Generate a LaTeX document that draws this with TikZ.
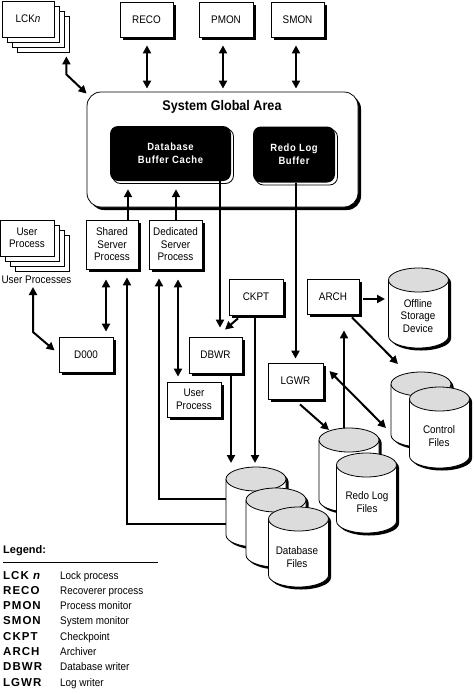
\documentclass[tikz,border=0pt]{standalone}
\usepackage{fontspec}
\setmainfont{Liberation Sans}[FakeStretch=0.9]
\newfontfamily\sgaf{Liberation Sans}[FakeStretch=0.9]
\newfontfamily\bufff{Liberation Sans}[FakeStretch=0.9,LetterSpace=6]
\newfontfamily\legf{Liberation Sans}[LetterSpace=9]
\newfontfamily\legh{Liberation Sans}
\usetikzlibrary{arrows.meta,shadows,calc}
\definecolor{topgray}{RGB}{220,220,220}

\tikzset{
 txt/.style={font=\fontsize{11}{12.5}\selectfont},
 pbox/.style={txt, draw, fill=white, line width=0.8pt, minimum width=54pt, minimum height=36pt,
   inner sep=1pt, align=center,
   drop shadow={shadow xshift=3pt,shadow yshift=-3pt,fill=black,opacity=1}},
 sbox/.style={txt, draw, fill=white, line width=0.8pt, minimum width=52pt, minimum height=36pt,
   inner sep=1pt, align=center},
 buf/.style={fill=black, rounded corners=8pt, text=white, align=center, inner sep=1pt,
   font=\bufff\bfseries\fontsize{10.5}{13}\selectfont,
   drop shadow={shadow xshift=2.5pt,shadow yshift=-2.5pt,fill=white,draw=black,line width=0.8pt,opacity=1}},
 sgabox/.style={draw, fill=white, line width=0.8pt, rounded corners=14pt,
   drop shadow={shadow xshift=3pt,shadow yshift=-3pt,fill=black,opacity=1}},
 con/.style={line width=2pt},
 sar/.style={con, -{Triangle[length=8pt,width=8pt]}},
 dbl/.style={con, {Triangle[length=8pt,width=8pt]}-{Triangle[length=8pt,width=8pt]}},
 ctext/.style={txt, align=center, inner sep=0pt},
 legab/.style={anchor=base west, inner sep=0pt, font=\legf\bfseries\fontsize{11.5}{13}\selectfont},
 legde/.style={txt, anchor=base west, inner sep=0pt},
}

\newcommand\cyl[4]{%
 \begin{scope}[shift={(#2,#3)}]
  \coordinate (#1) at (0,0);
  \fill[black] (-27.5,2.5) -- (-27.5,#4+2.5) arc[start angle=180,end angle=0,x radius=30,y radius=12]
     -- (32.5,2.5) arc[start angle=0,end angle=-180,x radius=30,y radius=12] -- cycle;
  \fill[white] (-30,0) -- (-30,#4) arc[start angle=180,end angle=0,x radius=30,y radius=12] -- (30,0) -- cycle;
  \draw[line width=0.8pt] (-30,0) -- (-30,#4) arc[start angle=180,end angle=0,x radius=30,y radius=12] -- (30,0);
  \filldraw[fill=topgray,line width=0.8pt] (0,0) ellipse[x radius=30,y radius=12];
 \end{scope}}

\begin{document}
\begin{tikzpicture}[x=1pt,y=-1pt]
\useasboundingbox (0,0) rectangle (474,694);

% ---- top processes
\node[sbox] (lck3) at (43,34) {};
\node[sbox] (lck2) at (38,29) {};
\node[sbox] (lck1) at (33,24) {};
\node[sbox] (lck) at (28,19) {LCK\textit{n}};
\node[pbox, minimum width=53pt, minimum height=35pt] (reco) at (146.5,19.5) {RECO};
\node[pbox, minimum height=35pt] (pmon) at (226,19.5) {PMON};
\node[pbox, minimum width=53pt, minimum height=35pt] (smon) at (297.5,19.5) {SMON};

% ---- SGA
\node[sgabox, minimum width=271pt, minimum height=115pt] (sga) at (222.5,149.5) {};
\node[inner sep=0pt, font=\sgaf\bfseries\fontsize{14}{16}\selectfont] (sgat) at (222,107) {System Global Area};
\node[buf, minimum width=121pt, minimum height=55pt] (dbc) at (170.5,153.5) {Database\\Buffer Cache};
\node[buf, minimum width=82pt, minimum height=56pt] (rlb) at (294,154.5) {Redo Log\\Buffer};

% ---- user side
\node[sbox, minimum width=54pt] (usr3) at (42,253) {};
\node[sbox, minimum width=54pt] (usr2) at (37,248) {};
\node[sbox, minimum width=54pt] (usr1) at (32,243) {};
\node[sbox, minimum width=54pt] (usr) at (27,238) {User\\Process};
\node[ctext] (usrl) at (36.5,280) {User Processes};

\node[pbox, minimum width=52pt, minimum height=49pt] (ssp) at (112,244.5) {Shared\\Server\\Process};
\node[pbox, minimum width=53pt, minimum height=49pt] (dsp) at (175.5,244.5) {Dedicated\\Server\\Process};
\node[pbox, minimum height=35pt] (d000) at (86,354.5) {D000};
\node[pbox, minimum height=35pt] (up) at (194,399.5) {User\\Process};
\node[pbox, minimum width=53pt] (dbwr) at (215.5,355) {DBWR};
\node[pbox] (ckpt) at (256,297) {CKPT};
\node[pbox, minimum width=55pt] (lgwr) at (295.5,381) {LGWR};
\node[pbox, minimum width=52pt, minimum height=35pt] (arch) at (333,296.5) {ARCH};

% ---- connector end points on the files
\coordinate (dbA) at (226,524);
\coordinate (dbB) at (226,499);
\coordinate (dbT1) at (231,463);
\coordinate (dbT2) at (255,463);
\coordinate (rlT) at (329,430);
\coordinate (rlTop) at (344,433);
\coordinate (cfA) at (398,364);
\coordinate (cfB) at (386,428);
\coordinate (offW) at (385,299);
\coordinate (usrA) at (33,287);

% ---- connectors
\draw[dbl] ([xshift=-3pt,yshift=-4pt]lck3.south east) -- ++(0,18) -- ([yshift=-2pt]sga.north west);
\draw[dbl] ($(reco.south)+(0.5,8)$) -- ($(reco.south |- sga.north)+(0.5,-3)$);
\draw[dbl] ($(pmon.south)+(-3,8)$) -- ($(pmon.south |- sga.north)+(-3,-3)$);
\draw[dbl] ($(smon.south)+(-1.5,8)$) -- ($(smon.south |- sga.north)+(-1.5,-3)$);

\draw[sar] ($(ssp.north)+(16,0)$) -- ($(ssp.north |- dbc.south)+(16,8)$);
\draw[sar] ($(dsp.north)+(0.5,0)$) -- ($(dsp.north |- dbc.south)+(0.5,8)$);
\coordinate (p7) at ($(dbwr.north)+(4.5,-9)$);
\draw[sar] (p7 |- dbc.south) -- (p7);
\draw[sar] (lgwr.north |- rlb.south) -- ($(lgwr.north)+(0,-4)$);

\coordinate (p9) at ($(d000.north)+(20,-5)$);
\draw[dbl] ($(p9 |- ssp.south)+(0,10)$) -- (p9);
\draw[sar] (dbA) -| ($(ssp.south)+(15,8)$);
\draw[sar] (dbB) -| ($(dsp.south)+(-16.5,9)$);
\draw[dbl] ($(dsp.south)+(2.5,10)$) -- ($(up.north)+(-16,-5)$);
\draw[dbl] (usrA) -- ++(0,45) -- ($(d000.west)+(-4,-4)$);

\draw[sar] ($(ckpt.south)+(-18,3)$) -- ($(dbwr.north)+(9.5,-7)$);
\draw[sar] (ckpt.south -| dbT2) -- (dbT2);
\draw[sar] (dbwr.south -| dbT1) -- (dbT1);
\draw[sar] ($(lgwr.south)+(4.5,5)$) -- (rlT);
\draw[dbl] ($(lgwr.east)+(6,-10)$) -- (cfB);
\draw[sar] (rlTop) -- ($(arch.south)+(11,16)$);
\draw[sar] ($(arch.east)+(4,2.5)$) -- (offW);
\draw[sar] ($(arch.south)+(19,3)$) -- (cfA);

% ---- files
\cyl{off}{418.5}{280}{56}
\node[ctext] (offt) at (418,316) {Offline\\Storage\\Device};
\cyl{cf1}{421}{384}{51}
\cyl{cf2}{439.5}{399}{57}
\node[ctext] (cft) at (439,436) {Control\\Files};
\cyl{rl1}{349}{440}{60}
\cyl{rl2}{366.5}{465}{56}
\node[ctext] (rlt) at (367,502) {Redo Log\\Files};
\cyl{db1}{256}{479}{56}
\cyl{db2}{276}{500}{55}
\cyl{db3}{298.5}{519}{56}
\node[ctext] (dbt) at (297,557) {Database\\Files};

% ---- legend
\node[anchor=base west, inner sep=0pt, font=\legh\bfseries\fontsize{11}{13}\selectfont] (leg) at (3,553) {Legend:};
\coordinate (legL) at (3,562);
\coordinate (legR) at (158,562);
\draw[line width=0.8pt] (legL) -- (legR);
\foreach \ab/\de [count=\i] in {{LCK \textit{n}}/Lock process, RECO/Recoverer process,
   PMON/Process monitor, SMON/System monitor, CKPT/Checkpoint, ARCH/Archiver,
   DBWR/Database writer, LGWR/Log writer}{
  \node[legab] (la\i) at (3,{579+(\i-1)*15.3}) {\ab};
  \node[legde] (ld\i) at (60,{579+(\i-1)*15.3}) {\de};
}
\end{tikzpicture}
\end{document}
